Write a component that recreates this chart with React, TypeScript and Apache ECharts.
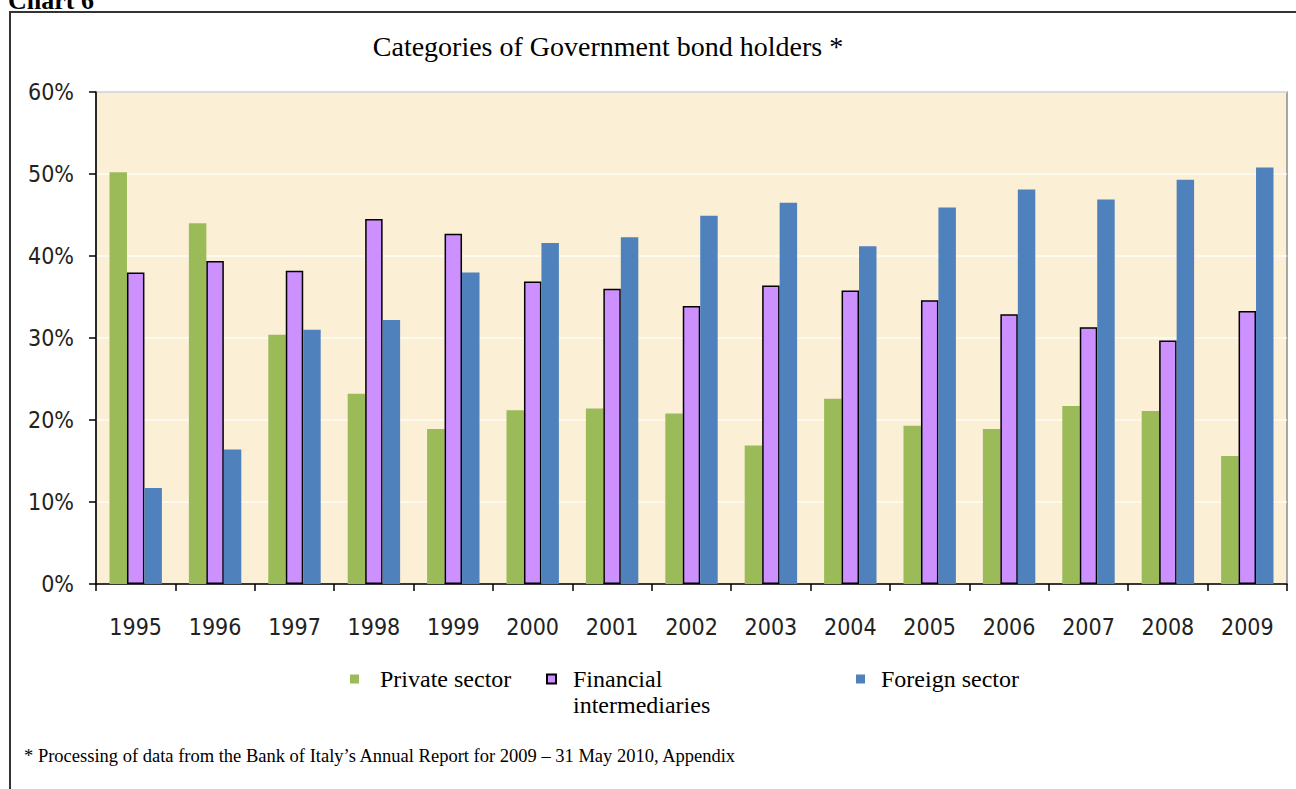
import React, { useEffect, useRef } from "react";
import * as echarts from "echarts";

const years = ["1995", "1996", "1997", "1998", "1999", "2000", "2001", "2002", "2003", "2004", "2005", "2006", "2007", "2008", "2009"];
const privateSector = [50.2, 44.0, 30.4, 23.2, 18.9, 21.2, 21.4, 20.8, 16.9, 22.6, 19.3, 18.9, 21.7, 21.1, 15.6];
const financialIntermediaries = [38.0, 39.4, 38.2, 44.5, 42.7, 36.9, 36.0, 33.9, 36.4, 35.8, 34.6, 32.9, 31.3, 29.7, 33.3];
const foreignSector = [11.7, 16.4, 31.0, 32.2, 38.0, 41.6, 42.3, 44.9, 46.5, 41.2, 45.9, 48.1, 46.9, 49.3, 50.8];
const seriesNames = ["Private sector", "Financial intermediaries", "Foreign sector"];
const titleText = "Categories of Government bond holders *";
const footnoteText = "* Processing of data from the Bank of Italy\u2019s Annual Report for 2009 \u2013 31 May 2010, Appendix";
const chartLabel = "Chart 6";

const axisFont = "'DejaVu Sans Condensed', 'DejaVu Sans', sans-serif";
const serifFont = "'Liberation Serif', 'Times New Roman', serif";

export default function App() {
  const ref = useRef<HTMLDivElement>(null);
  useEffect(() => {
    document.body.style.margin = "0";
    const chart = echarts.init(ref.current!, null, { renderer: "svg" });
    const legendText = { fontFamily: serifFont, fontSize: 24, lineHeight: 26, color: "#000" };
    chart.setOption({
      animation: false,
      backgroundColor: "#fff",
      title: {
        text: titleText,
        left: 603,
        textAlign: "center",
        top: 27,
        textStyle: { fontFamily: serifFont, fontSize: 28, fontWeight: "normal", color: "#000" },
      },
      graphic: [
        {
          type: "rect",
          shape: { x: 10, y: 12, width: 1300, height: 800 },
          style: { fill: "none", stroke: "#333", lineWidth: 2 },
          silent: true,
        },
        {
          type: "text",
          x: 8,
          y: 13,
          style: {
            text: chartLabel,
            fontFamily: serifFont,
            fontSize: 26,
            fontWeight: "bold",
            fill: "#000",
            verticalAlign: "bottom",
            align: "left",
          },
        },
        {
          type: "text",
          x: 24,
          y: 756,
          style: {
            text: footnoteText,
            fontFamily: serifFont,
            fontSize: 18.5,
            fill: "#000",
            verticalAlign: "middle",
            align: "left",
          },
        },
      ],
      legend: [
        {
          data: [seriesNames[0]],
          left: 345,
          top: 661,
          icon: "rect",
          itemWidth: 9,
          itemHeight: 9,
          itemGap: 0,
          textStyle: { ...legendText, padding: [0, 0, 0, 16] },
        },
        {
          data: [seriesNames[1]],
          left: 541,
          top: 635,
          icon: "rect",
          itemWidth: 9,
          itemHeight: 9,
          formatter: () => " \nFinancial\nintermediaries",
          textStyle: { ...legendText, padding: [0, 0, 0, 12] },
        },
        {
          data: [seriesNames[2]],
          left: 851,
          top: 661,
          icon: "rect",
          itemWidth: 9,
          itemHeight: 9,
          textStyle: { ...legendText, padding: [0, 0, 0, 11] },
        },
      ],
      grid: {
        left: 96,
        right: 9,
        top: 92,
        bottom: 205,
        show: true,
        backgroundColor: "#FBEFD6",
        borderColor: "#8a8a8a",
        borderWidth: 1.5,
      },
      xAxis: {
        type: "category",
        data: years,
        axisLine: { lineStyle: { color: "#000", width: 1.5 } },
        axisTick: { show: true, length: 7, lineStyle: { color: "#000", width: 1.5 } },
        axisLabel: { fontFamily: axisFont, fontSize: 23, color: "#222", margin: 31 },
      },
      yAxis: {
        type: "value",
        min: 0,
        max: 60,
        interval: 10,
        axisLine: { show: true, lineStyle: { color: "#000", width: 1.5 } },
        axisTick: { show: true, length: 7, lineStyle: { color: "#000", width: 1.5 } },
        axisLabel: { fontFamily: axisFont, fontSize: 23, color: "#222", margin: 22, formatter: "{value}%" },
        splitLine: { lineStyle: { color: "rgba(255,255,255,0.8)", width: 1.5 } },
      },
      series: [
        {
          name: seriesNames[0],
          type: "bar",
          data: privateSector,
          barGap: "0%",
          barCategoryGap: "34%",
          itemStyle: { color: "#9BBB59" },
        },
        {
          name: seriesNames[1],
          type: "bar",
          data: financialIntermediaries,
          barGap: "0%",
          barCategoryGap: "34%",
          itemStyle: { color: "#CC90FF", borderColor: "#000", borderWidth: 1.5 },
        },
        {
          name: seriesNames[2],
          type: "bar",
          data: foreignSector,
          barGap: "0%",
          barCategoryGap: "34%",
          itemStyle: { color: "#4F81BD" },
        },
      ],
    });
    return () => chart.dispose();
  }, []);
  return <div ref={ref} style={{ width: 1296, height: 789 }} />;
}
